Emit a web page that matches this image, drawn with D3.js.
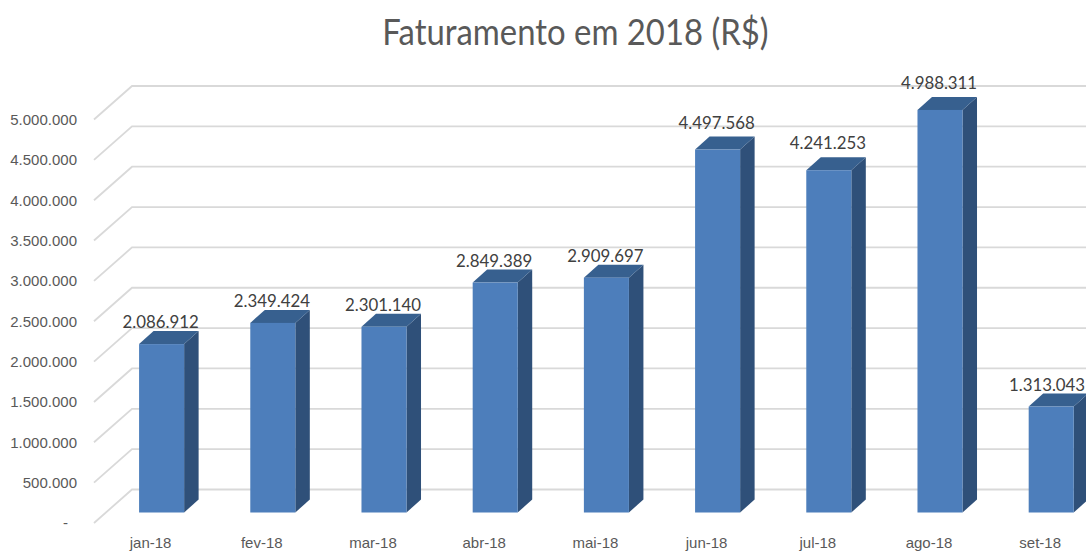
<!DOCTYPE html>
<html>
<head>
<meta charset="utf-8">
<script src="https://cdnjs.cloudflare.com/ajax/libs/d3/7.8.5/d3.min.js"></script>
<style>
html, body { margin: 0; padding: 0; background: #fff; overflow: hidden; }
svg { display: block; font-family: Lato, "Open Sans", sans-serif; }
.domain { display: none; }
.grid { fill: none; stroke: #d9d9d9; stroke-width: 1.8; }
.y.axis text { font-size: 15px; fill: #595959; }
.x.axis text { font-size: 15px; fill: #595959; }
.label { font-size: 18px; fill: #404040; text-anchor: middle; }
.title { font-size: 36px; fill: #595959; text-anchor: middle; }
</style>
</head>
<body>
<div id="svgDiv"></div>
<script>
var months = ["jan-18", "fev-18", "mar-18", "abr-18", "mai-18", "jun-18", "jul-18", "ago-18", "set-18"];
var faturamento = [2086912, 2349424, 2301140, 2849389, 2909697, 4497568, 4241253, 4988311, 1313043];
var yTicks = [0, 500000, 1000000, 1500000, 2000000, 2500000, 3000000, 3500000, 4000000, 4500000, 5000000];

var width = 1086, height = 554;

// three planes of the fake 3d: wall at the back, floor edge in front, bars in the middle
var yWall = d3.scaleLinear().domain([0, 5000000]).range([489.5, 86]);
var yFloor = d3.scaleLinear().domain([0, 5000000]).range([523, 119.5]);
var yBar = d3.scaleLinear().domain([0, 5000000]).range([512.5, 109]);

var x = d3.scaleBand()
  .domain(months)
  .range([106, 1106.8])
  .paddingInner(0.595)
  .paddingOuter(0.2975);

var depthX = 14.5, depthY = 13;
var wallLeft = 132, floorLeft = 94;
var labelWidth = 76;

var fmt = function(v) { return d3.format(",")(v).replace(/,/g, "."); };

var svg = d3.select("#svgDiv").append("svg")
  .attr("width", width)
  .attr("height", height);

// squeezed because the original font is narrower than Lato
svg.append("text")
  .attr("class", "title")
  .attr("transform", "translate(575.5,45) scale(0.913,1)")
  .text("Faturamento em 2018 (R$)");

// gridlines
svg.selectAll("path.grid")
  .data(yTicks)
  .enter()
  .append("path")
  .attr("class", "grid")
  .attr("d", function(d) {
    return "M" + floorLeft + "," + yFloor(d) + "L" + wallLeft + "," + yWall(d) + "L" + width + "," + yWall(d);
  });

var yAxis = d3.axisLeft(yFloor)
  .tickValues(yTicks)
  .tickSize(0)
  .tickPadding(0)
  .tickFormat(function(d) { return d == 0 ? "-" : fmt(d); });

svg.append("g")
  .attr("class", "y axis")
  .attr("transform", "translate(77,0)")
  .call(yAxis);

// the dash sits a bit left of the other tick labels
svg.selectAll(".y.axis .tick text")
  .filter(function(d) { return d == 0; })
  .attr("dx", -9);

var xAxis = d3.axisBottom(x).tickSize(0).tickPadding(0);

svg.append("g")
  .attr("class", "x axis")
  .attr("transform", "translate(-11,537)")
  .call(xAxis);

// bars
var bars = svg.selectAll("g.bar")
  .data(faturamento)
  .enter()
  .append("g")
  .attr("class", "bar");

bars.append("polygon")
  .attr("fill", "#2f5079")
  .attr("points", function(d, i) {
    var r = x(months[i]) + x.bandwidth();
    return [[r, yBar(d)], [r + depthX, yBar(d) - depthY], [r + depthX, yBar(0) - depthY], [r, yBar(0)]].join(" ");
  });

bars.append("polygon")
  .attr("fill", "#37608f")
  .attr("points", function(d, i) {
    var l = x(months[i]), r = l + x.bandwidth();
    return [[l, yBar(d)], [l + depthX, yBar(d) - depthY], [r + depthX, yBar(d) - depthY], [r, yBar(d)]].join(" ");
  });

bars.append("rect")
  .attr("fill", "#4d7ebb")
  .attr("x", function(d, i) { return x(months[i]); })
  .attr("y", function(d) { return yBar(d); })
  .attr("width", x.bandwidth())
  .attr("height", function(d) { return yBar(0) - yBar(d); });

bars.append("text")
  .attr("class", "label")
  .attr("transform", function(d, i) {
    // keep the last label inside the picture
    var cx = Math.min(x(months[i]) + x.bandwidth() / 2 - 1, width - labelWidth / 2 - 1);
    var cy = yBar(d) - (d > 4000000 ? 21 : 16);
    return "translate(" + cx + "," + cy + ") scale(0.935,1)";
  })
  .text(function(d) { return fmt(d); });
</script>
</body>
</html>
